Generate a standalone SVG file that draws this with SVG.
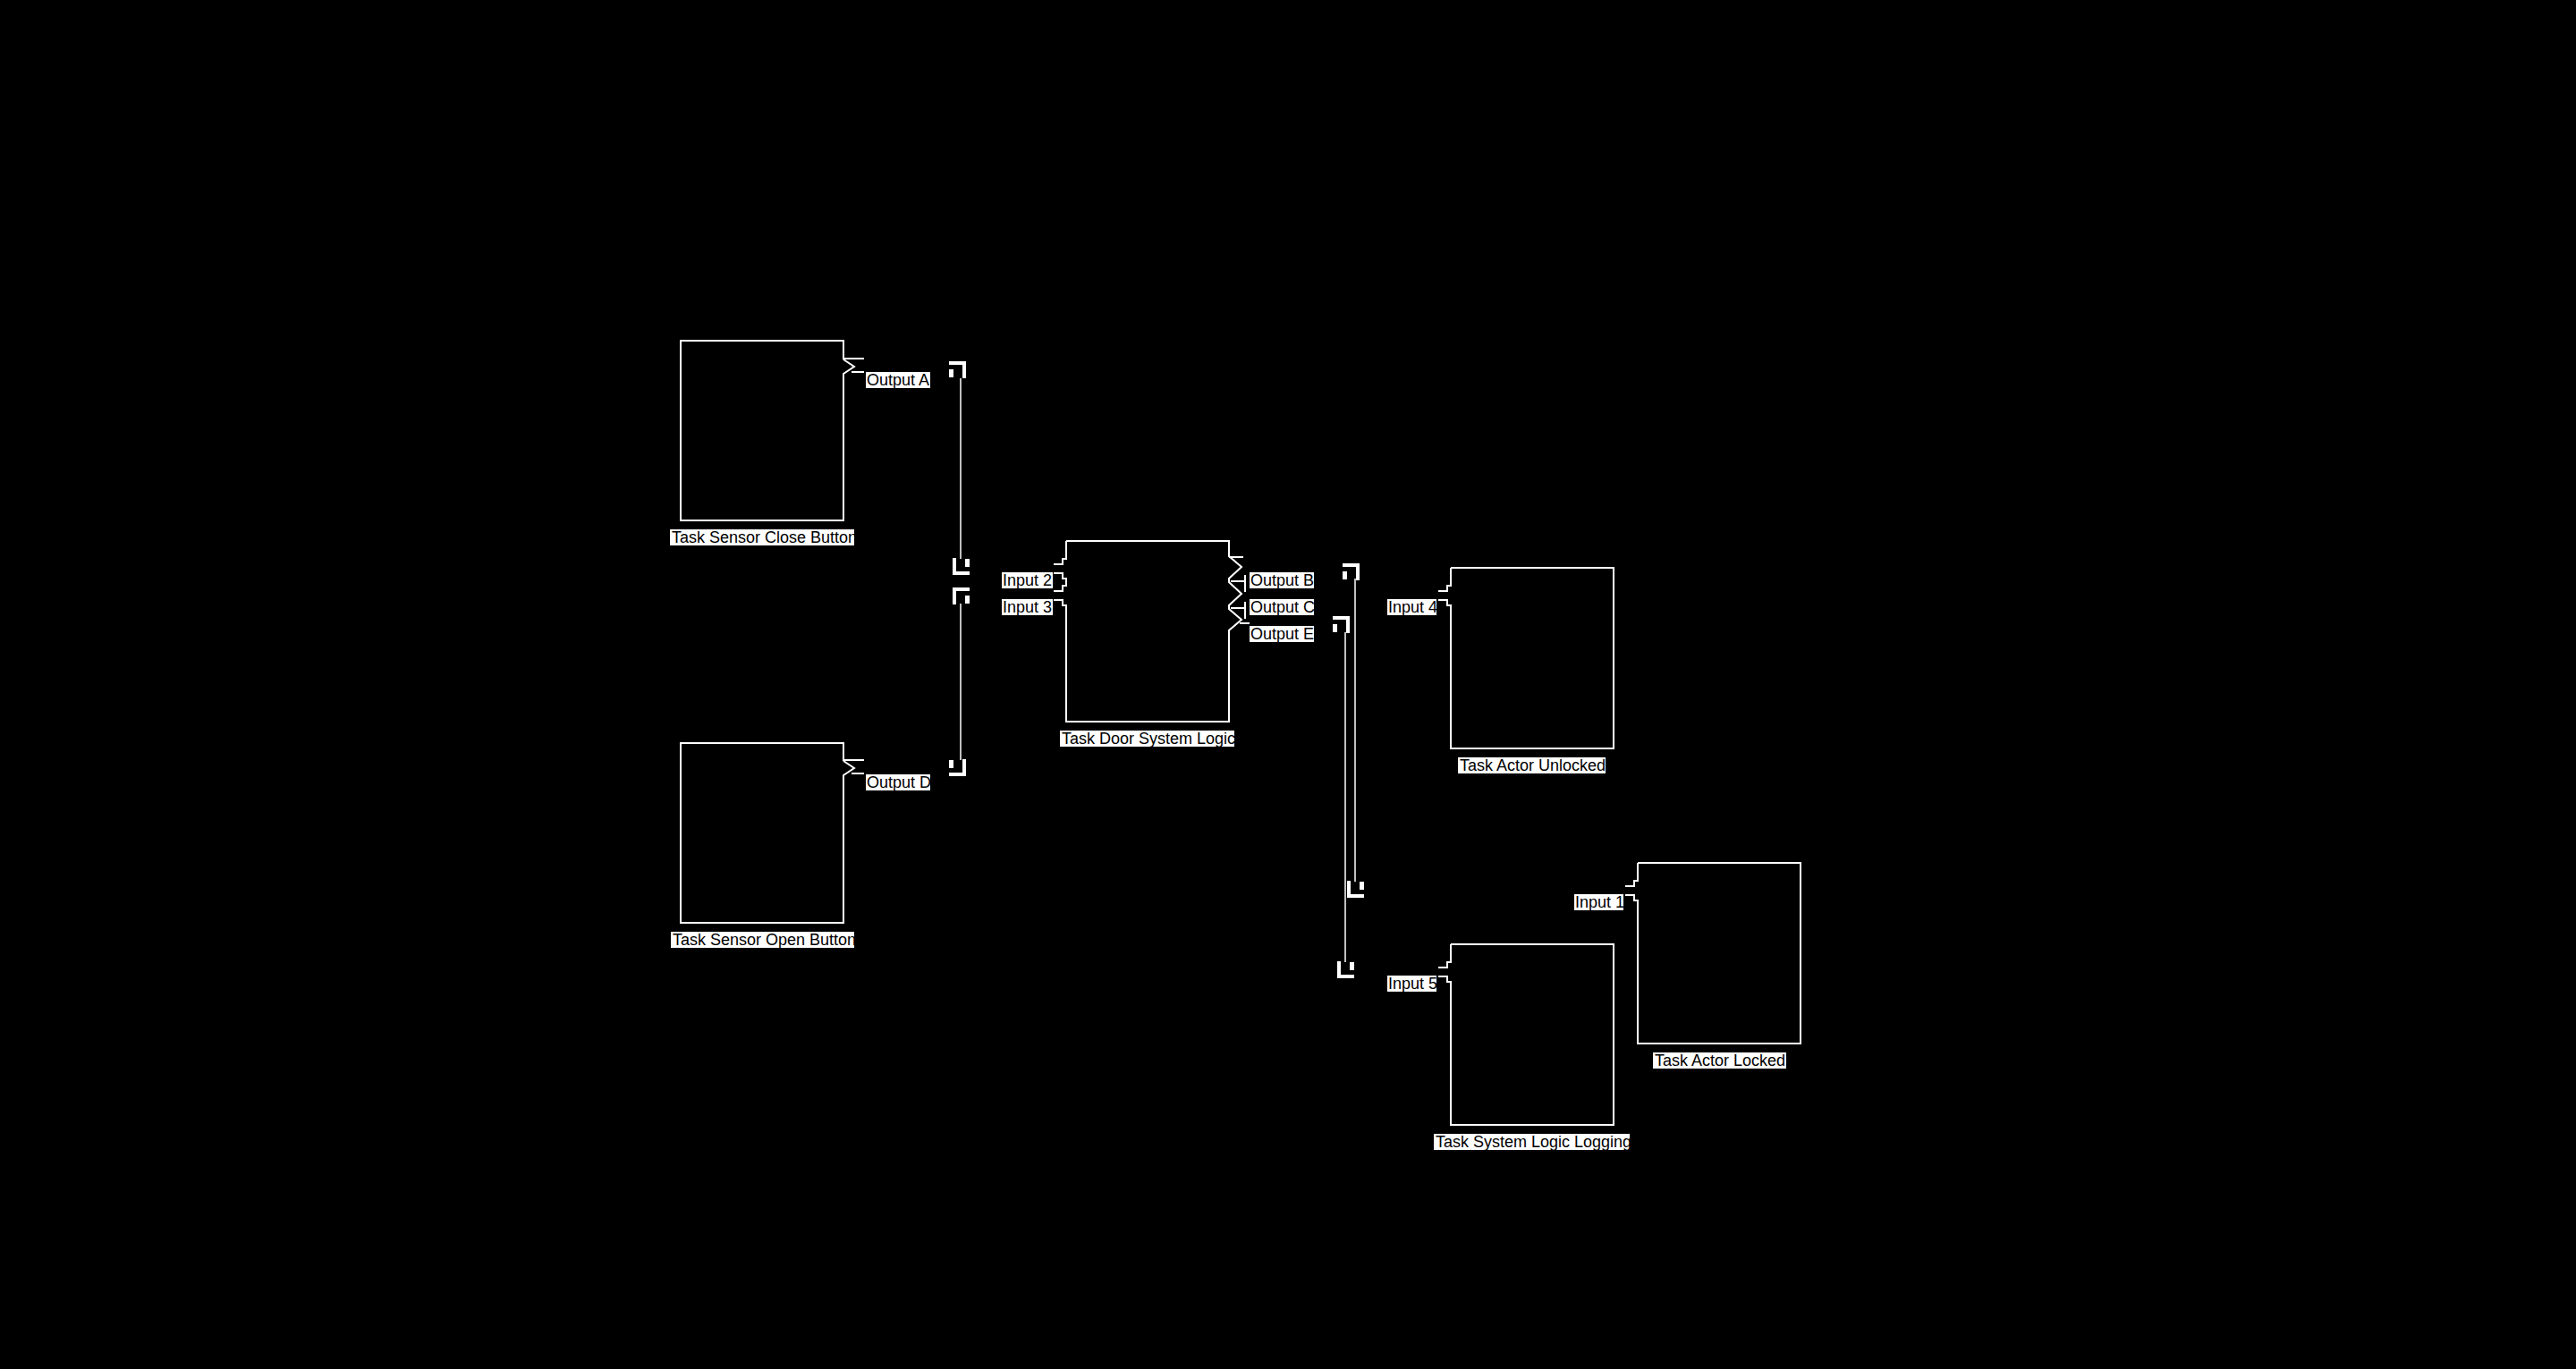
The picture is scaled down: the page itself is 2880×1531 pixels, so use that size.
<svg xmlns="http://www.w3.org/2000/svg" xmlns:xlink="http://www.w3.org/1999/xlink" width="2880" height="1531" viewBox="0 0 2880 1531">
<style>
.box{fill:none;stroke:#fff;stroke-width:2}
.lbl{fill:#fff}
.t{font-family:"Liberation Sans",Arial,sans-serif;font-size:18px;fill:#000}
.wire{stroke:#fff;stroke-width:1.5;fill:none}
.mk{fill:#fff}
</style>
<defs>
<g id="crn" class="mk"><rect x="0" y="0" width="19" height="4"/><rect x="15" y="0" width="4" height="19"/><rect x="0" y="9" width="5" height="9"/></g>
</defs>
<rect width="2880" height="1531" fill="#000"/>

<g id="connectors">
<path class="wire" d="M1074,423 V625"/>
<path class="wire" d="M1074,675 V850"/>
<path class="wire" d="M1515,647 V986"/>
<path class="wire" d="M1504,707 V1076"/>
<use xlink:href="#crn" x="1061" y="404"/>
<use xlink:href="#crn" transform="translate(1084,643) rotate(180)"/>
<use xlink:href="#crn" transform="translate(1084,657) scale(-1,1)"/>
<use xlink:href="#crn" transform="translate(1061,868) scale(1,-1)"/>
<use xlink:href="#crn" x="1501" y="630"/>
<use xlink:href="#crn" x="1490" y="689"/>
<use xlink:href="#crn" transform="translate(1525,1004) rotate(180)"/>
<use xlink:href="#crn" transform="translate(1514,1094) rotate(180)"/>
</g>

<g id="task_sensor_close_button">
<path class="box" d="M943,402 L955,410 L943,418 V582 H761 V381 H943 V401 H966 M952,416 H966"/>
<rect class="lbl" x="749" y="592" width="206" height="18"/>
<text class="t" x="751" y="607">Task Sensor Close Button</text>
<rect class="lbl" x="968" y="416" width="72" height="18"/>
<text class="t" x="969" y="431">Output A</text>
</g>

<g id="task_sensor_open_button">
<path class="box" d="M943,851 L955,859 L943,867 V1032 H761 V831 H943 V850 H966 M952,865 H966"/>
<rect class="lbl" x="750" y="1042" width="205" height="18"/>
<text class="t" x="752" y="1057">Task Sensor Open Button</text>
<rect class="lbl" x="968" y="866" width="72" height="18"/>
<text class="t" x="969" y="881">Output D</text>
</g>

<g id="task_door_system_logic">
<path class="box" d="M1192,605 H1374 V622 L1388,634 L1374,647 V651 L1388,664 L1374,677 V681 L1388,693 L1374,705 V807 H1192 V677 H1188 V671 H1178 M1178,661 H1188 V655 H1192 V647 H1188 V641 H1178 M1178,631 H1188 V625 H1192 V605 M1374,623 H1390 M1376,650 H1392 M1392,643 V662 M1376,680 H1392 M1392,673 V692 M1386,697 H1397"/>
<rect class="lbl" x="1185" y="817" width="195" height="18"/>
<text class="t" x="1187" y="832">Task Door System Logic</text>
<rect class="lbl" x="1120" y="640" width="57" height="18"/>
<text class="t" x="1121" y="655">Input 2</text>
<rect class="lbl" x="1120" y="670" width="57" height="18"/>
<text class="t" x="1121" y="685">Input 3</text>
<rect class="lbl" x="1397" y="640" width="72" height="18"/>
<text class="t" x="1398" y="655">Output B</text>
<rect class="lbl" x="1397" y="670" width="72" height="18"/>
<text class="t" x="1398" y="685">Output C</text>
<rect class="lbl" x="1397" y="700" width="72" height="18"/>
<text class="t" x="1398" y="715">Output E</text>
</g>

<g id="task_actor_unlocked">
<path class="box" d="M1622,635 H1804 V837 H1622 V677 H1618 V671 H1608 M1608,661 H1618 V655 H1622 V635"/>
<rect class="lbl" x="1630" y="847" width="165" height="18"/>
<text class="t" x="1632" y="862">Task Actor Unlocked</text>
<rect class="lbl" x="1551" y="670" width="55" height="18"/>
<text class="t" x="1552" y="685">Input 4</text>
</g>

<g id="task_actor_locked">
<path class="box" d="M1831,965 H2013 V1167 H1831 V1007 H1827 V1001 H1817 M1817,991 H1827 V985 H1831 V965"/>
<rect class="lbl" x="1848" y="1177" width="149" height="18"/>
<text class="t" x="1850" y="1192">Task Actor Locked</text>
<rect class="lbl" x="1760" y="1000" width="55" height="18"/>
<text class="t" x="1761" y="1015">Input 1</text>
</g>

<g id="task_system_logic_logging">
<path class="box" d="M1622,1056 H1804 V1258 H1622 V1098 H1618 V1092 H1608 M1608,1082 H1618 V1076 H1622 V1056"/>
<rect class="lbl" x="1603" y="1268" width="219" height="18"/>
<text class="t" x="1605" y="1283">Task System Logic Logging</text>
<rect class="lbl" x="1551" y="1091" width="55" height="18"/>
<text class="t" x="1552" y="1106">Input 5</text>
</g>
</svg>
